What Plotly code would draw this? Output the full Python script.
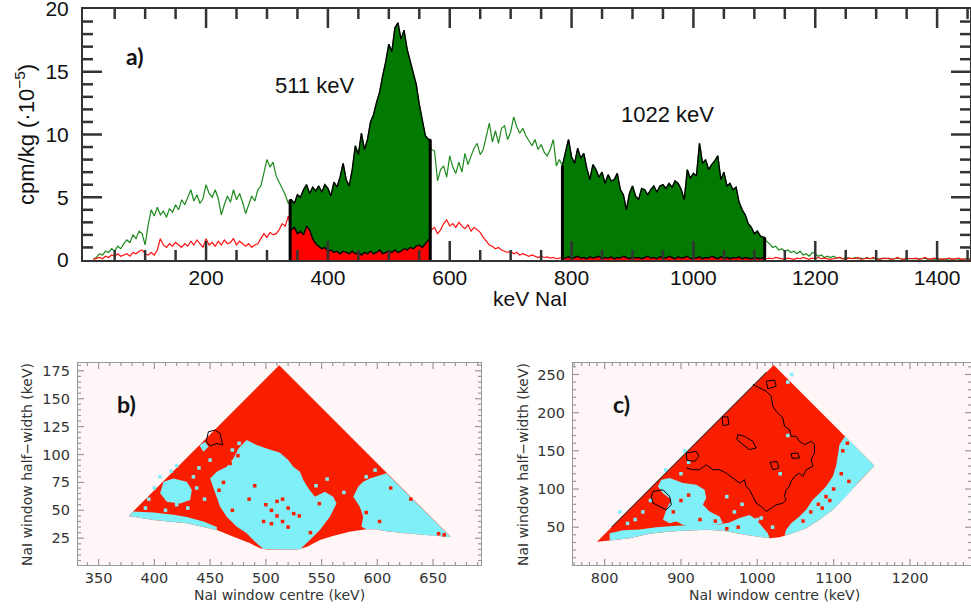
import numpy as np
import plotly.graph_objects as go

# ---------------- panel a) spectrum data (5 keV steps, 15..1455 keV) ----------------
energy_start, energy_step = 15, 5
green_spectrum = [
    0.1,0.2,0.5,0.4,0.7,0.6,0.9,0.7,1.1,0.9,
    1.3,1.6,1.4,2.0,1.7,2.3,2.1,1.2,2.8,4.0,
    3.5,4.2,3.6,3.9,3.4,4.1,3.8,4.4,4.0,4.8,
    4.4,5.0,5.6,4.7,5.2,4.5,4.9,6.0,5.3,5.0,
    5.6,4.9,3.6,4.4,5.1,4.6,5.6,4.8,5.3,4.6,
    3.7,4.4,5.1,4.7,5.6,5.9,7.0,8.0,7.4,7.8,
    6.7,6.2,5.7,5.2,4.5,4.8,4.5,5.2,5.0,5.6,
    6.0,5.3,5.8,5.5,5.9,5.4,6.0,5.7,5.1,6.2,
    5.8,6.6,7.7,6.4,5.9,7.2,9.1,8.4,10.1,8.8,
    9.6,11.0,11.6,12.6,13.4,14.7,15.8,17.2,16.6,18.5,
    18.9,17.6,18.3,16.8,15.9,14.8,14.0,12.4,11.2,9.9,
    9.6,8.8,8.7,6.3,7.2,7.5,6.6,8.3,7.4,6.9,
    7.8,7.0,8.5,7.6,8.3,8.9,9.3,8.4,8.8,9.8,
    10.9,9.4,10.3,9.3,10.5,10.7,9.6,10.2,11.4,10.6,
    10.1,10.5,9.9,9.5,9.1,9.6,8.8,9.2,8.6,8.3,
    8.8,9.6,7.5,8.0,7.5,8.6,9.6,8.2,7.7,8.9,
    8.1,8.5,7.3,6.4,7.6,7.2,6.6,7.0,6.1,6.8,
    6.3,6.4,6.9,5.6,5.2,4.0,5.3,5.9,5.1,4.8,
    5.7,5.6,5.2,5.6,5.9,5.4,5.9,6.0,5.7,6.1,
    5.8,6.3,6.1,5.6,4.8,7.2,6.5,6.9,6.7,9.3,
    7.7,8.0,7.2,7.6,7.9,8.3,6.4,7.0,5.9,6.1,
    5.6,5.8,4.6,4.0,3.6,2.9,2.6,2.1,2.3,1.9,
    1.8,1.5,1.3,1.0,1.1,0.8,0.9,0.7,0.8,0.6,
    0.7,0.5,0.7,0.4,0.5,0.3,0.6,0.5,0.3,0.4,
    0.2,0.3,0.2,0.3,0.15,0.2,0.1,0.2,0.15,0.1,
    0.2,0.1,0.15,0.1,0.2,0.1,0.1,0.15,0.05,0.1,
    0.15,0.1,0.05,0.1,0.15,0.1,0.05,0.1,0.1,0.05,
    0.1,0.05,0.1,0.15,0.05,0.1,0.05,0.1,0.05,0.1,
    0.05,0.1,0.05,0.1,0.05,0.05,0.1,0.05,0.1,
]
red_spectrum = [
    0.05,0.1,0.2,0.1,0.3,0.2,0.4,0.3,0.5,0.3,
    0.4,0.5,0.3,0.6,0.5,0.7,0.8,0.5,0.4,0.6,
    0.4,0.8,1.7,1.2,1.0,1.3,1.1,1.4,1.2,1.0,
    1.3,1.1,1.5,1.2,1.6,1.3,1.0,1.7,1.2,1.4,
    1.1,1.5,1.2,1.6,1.3,1.4,1.7,1.2,1.5,1.3,
    1.1,1.3,1.0,1.2,1.3,1.7,2.1,1.8,2.2,2.0,
    2.1,2.4,2.9,2.7,3.5,2.4,2.6,2.1,2.3,2.0,
    2.7,2.4,1.7,1.3,1.1,0.9,1.0,0.7,0.8,0.6,
    0.7,0.5,0.7,0.6,0.5,0.7,0.5,0.6,0.4,0.6,
    0.5,0.7,0.5,0.6,0.8,0.5,0.6,0.7,0.6,0.8,
    0.6,0.7,0.9,0.8,1.0,0.9,1.1,1.2,1.0,1.3,
    1.6,2.4,2.6,2.1,2.4,2.9,3.2,2.7,2.9,2.6,
    3.0,2.7,2.5,2.8,2.3,2.6,2.4,2.2,1.8,1.5,
    1.2,1.1,0.9,1.0,0.8,0.7,0.6,0.7,0.5,0.6,
    0.4,0.5,0.4,0.3,0.4,0.3,0.2,0.3,0.2,0.25,
    0.15,0.2,0.1,0.15,0.2,0.15,0.25,0.1,0.2,0.3,
    0.15,0.2,0.1,0.25,0.15,0.2,0.3,0.1,0.2,0.15,
    0.25,0.1,0.2,0.15,0.3,0.2,0.1,0.25,0.15,0.2,
    0.1,0.2,0.3,0.15,0.2,0.1,0.25,0.2,0.15,0.3,
    0.2,0.1,0.25,0.15,0.2,0.3,0.1,0.2,0.15,0.25,
    0.1,0.2,0.15,0.3,0.2,0.1,0.25,0.15,0.2,0.1,
    0.2,0.15,0.25,0.1,0.2,0.15,0.1,0.2,0.15,0.1,
    0.2,0.1,0.15,0.1,0.2,0.15,0.1,0.05,0.15,0.1,
    0.05,0.15,0.1,0.2,0.1,0.05,0.15,0.1,0.2,0.1,
    0.15,0.1,0.05,0.1,0.15,0.2,0.1,0.05,0.15,0.1,
    0.1,0.2,0.05,0.1,0.15,0.1,0.2,0.1,0.05,0.15,
    0.1,0.15,0.05,0.1,0.2,0.1,0.05,0.15,0.1,0.1,
    0.15,0.05,0.1,0.2,0.1,0.05,0.15,0.1,0.1,0.05,
    0.1,0.15,0.05,0.1,0.15,0.05,0.1,0.1,0.05,
]
windows = [(338, 568), (785, 1117)]
peak_labels = [("511 keV", 314, 86), ("1022 keV", 667, 114)]
a_xticks = [200, 400, 600, 800, 1000, 1200, 1400]
a_yticks = [0, 5, 10, 15, 20]

# ---------------- panel b) 511 keV window map (polygons, keV units) ----------------
b_xticks = [350, 400, 450, 500, 550, 600, 650]
b_yticks = [25, 50, 75, 100, 125, 150, 175]
b_valid = [(377, 45), (512, 180), (666, 26), (650, 27.3), (620, 30), (605, 31.8), (599, 33),
           (590, 33), (575, 30.9), (560, 27), (548.5, 23.4), (537, 17.4), (529, 15), (515, 14.8),
           (501, 14.8), (495, 16), (486, 20.4), (471, 26.4), (456, 32.4), (429, 38.3), (399, 41.3), (377, 45)]
b_cyan = [
    [(482.8, 112.9), (491.8, 108.5), (500.7, 105.5), (512.7, 101.6), (520.1, 95.0), (524.6, 89.1),
     (530.6, 84.6), (533.6, 77.1), (538.1, 69.7), (544.0, 62.2), (553.0, 66.7), (560.4, 62.2),
     (563.4, 56.2), (560.4, 50.3), (557.5, 44.3), (553.0, 38.3), (548.5, 32.4), (542.5, 26.4),
     (536.6, 20.4), (530.6, 15.0), (515, 14.8), (501, 14.8), (497.8, 15.3), (491.8, 20.4),
     (482.8, 29.4), (473.9, 35.3), (464.9, 44.3), (459.0, 53.2), (456.0, 62.2), (453.0, 71.1),
     (450.0, 78.6), (456.0, 84.6), (464.9, 89.1), (470.9, 96.5), (475.4, 105.5)],
    [(608.2, 83.1), (599.3, 80.1), (593.3, 78.6), (587.3, 75.6), (582.8, 71.1), (578.4, 62.2),
     (584.3, 53.2), (587.3, 44.3), (585.8, 35.3), (590.3, 33), (599, 33), (605, 31.8), (620, 30),
     (650, 27.3), (666, 25.8)],
    [(381.3, 49), (399.3, 48), (417.2, 46), (429.1, 44), (444.0, 40), (456.0, 35), (456, 32.4),
     (429, 38.3), (399, 41.3), (377, 45)],
    [(408.2, 75.6), (417.2, 78.6), (429.1, 75.6), (433.6, 68.2), (432.1, 59.2), (423.1, 56.2),
     (411.2, 57.7), (405.2, 65.2)],
    [(440.4, 108.4), (445.5, 111.4), (448.5, 107.0), (444.0, 102.5)],
]
b_red_specks = [(500, 55), (505, 50), (510, 45), (515, 40), (520, 52), (525, 47), (510, 58), (520, 35),
                (498, 40), (530, 45), (515, 60), (505, 38), (455, 95), (460, 100), (468, 92), (475, 99),
                (462, 75), (458, 68), (590, 48), (602, 40), (630, 60), (655, 29), (660, 28), (612, 70),
                (485, 60), (490, 72), (470, 50), (540, 30), (548, 56)]
b_cyan_specks = [(400, 70), (405, 80), (415, 85), (420, 90), (425, 65), (435, 80), (440, 88), (420, 55),
                 (395, 60), (410, 50), (430, 52), (445, 60), (450, 95), (470, 104), (476, 110), (545, 72),
                 (555, 78), (570, 66), (590, 80), (598, 86), (438, 70), (392, 52)]
b_contours = [
    [(448.5, 120.4), (454.5, 121.9), (459.0, 118.9), (460.4, 112.9), (461.3, 108.5), (456.0, 109.9),
     (450.0, 107.6), (446.4, 111.4), (447.6, 116.5), (448.5, 120.4)],
]

# ---------------- panel c) 1022 keV window map ----------------
c_xticks = [800, 900, 1000, 1100, 1200]
c_yticks = [50, 100, 150, 200, 250]
c_valid = [(790, 31), (1021.5, 262.5), (1153.4, 130.5), (1133.8, 110.0), (1116.3, 90.3), (1098.9, 72.8),
           (1081.4, 59.6), (1064.0, 48.7), (1044.3, 41.3), (1029.1, 36.9), (1016.0, 35.6), (998.5, 37.7),
           (985.4, 39.9), (954.9, 45.2), (933.1, 46.5), (911.3, 45.6), (885.1, 44.3), (858.9, 41.3),
           (832.7, 35.6), (806.5, 32.5), (790, 31)]
c_cyan = [
    [(1115.0, 169.0), (1107.6, 158.1), (1105.4, 142.8), (1103.2, 129.7), (1098.9, 116.5), (1090.1, 103.4),
     (1081.4, 94.6), (1072.7, 85.9), (1064.0, 72.8), (1055.2, 64.0), (1044.3, 55.3), (1037.8, 46.5),
     (1035.6, 39.0), (1044.3, 41.3), (1064.0, 48.7), (1081.4, 59.6), (1098.9, 72.8), (1116.3, 90.3),
     (1133.8, 110.0), (1153.4, 130.5)],
    [(874.2, 112.1), (885.1, 114.3), (902.5, 107.8), (920.0, 105.6), (930.9, 99.0), (933.1, 88.1),
     (928.7, 79.3), (937.4, 70.6), (950.5, 64.0), (954.9, 55.3), (937.4, 50.9), (920.0, 48.7),
     (902.5, 53.1), (893.8, 57.4), (885.1, 55.3), (876.4, 59.6), (880.7, 72.8), (887.3, 85.9),
     (876.4, 94.6), (869.8, 103.4)],
    [(806.5, 42), (824.0, 46), (845.8, 47), (867.6, 50), (893.8, 52), (920.0, 53), (946.2, 53),
     (963.6, 56), (976.7, 62), (989.8, 66), (998.5, 60), (1007.2, 50), (1013.8, 42), (1016.0, 35.6),
     (998.5, 37.7), (985.4, 39.9), (954.9, 45.2), (933.1, 46.5), (911.3, 45.6), (885.1, 44.3),
     (858.9, 41.3), (832.7, 35.6), (806.5, 32.5)],
]
c_red_specks = [(1090, 90), (1100, 100), (1080, 80), (1070, 70), (1110, 120), (1060, 58), (1120, 110),
                (1112, 150), (1118, 160), (1085, 75), (1095, 85), (900, 85), (910, 92), (890, 70),
                (925, 60), (945, 58), (960, 48), (975, 50)]
c_cyan_specks = [(900, 120), (910, 135), (880, 125), (905, 150), (1040, 170), (1045, 250), (1040, 240),
                 (1030, 120), (1000, 60), (990, 55), (960, 90), (970, 70), (850, 70), (840, 60),
                 (830, 55), (820, 70), (1005, 62), (1020, 50), (980, 80), (860, 85)]
c_contours = [
    [(994.2, 236.9), (1002.9, 232.5), (1011.6, 228.1), (1018.2, 221.6), (1020.3, 208.4), (1024.7, 201.8),
     (1033.4, 193.1), (1035.6, 182.2), (1042.1, 177.8), (1044.3, 169.0), (1050.9, 169.0), (1055.2, 162.4),
     (1061.8, 158.1), (1070.5, 162.4), (1074.9, 158.1), (1074.9, 147.2), (1070.5, 138.4), (1072.7, 129.7),
     (1064.0, 125.3), (1059.6, 116.5), (1055.2, 120.9), (1048.7, 116.5), (1044.3, 110.0), (1042.1, 103.4),
     (1037.8, 99.0), (1035.6, 90.3), (1037.8, 85.9), (1033.4, 81.5), (1024.7, 79.3), (1018.2, 75.0),
     (1011.6, 70.6), (1005.1, 77.1), (998.5, 81.5), (994.2, 90.3), (989.8, 99.0), (985.4, 103.4),
     (983.2, 112.1), (976.7, 107.8), (968.0, 114.3), (959.2, 120.9), (950.5, 125.3), (941.8, 125.3),
     (933.1, 131.8), (924.3, 125.3), (915.6, 125.3), (906.9, 127.5)],
    [(809, 50), (1012, 253)],
    [(863.3, 96.8), (876.4, 99.0), (885.1, 90.3), (887.3, 79.3), (880.7, 72.8), (872.0, 77.1),
     (863.3, 81.5), (861.1, 90.3), (863.3, 96.8)],
    [(906.9, 147.2), (920.0, 149.3), (923.5, 142.8), (917.8, 136.2), (907.8, 137.5), (906.9, 147.2)],
    [(954.0, 194.4), (961.4, 194.4), (962.7, 184.4), (954.9, 183.0), (954.0, 194.4)],
    [(974.5, 171.2), (983.2, 169.0), (994.2, 162.4), (998.5, 153.7), (989.8, 151.5), (981.1, 158.1),
     (973.2, 164.7), (974.5, 171.2)],
    [(1016.8, 134.9), (1025.6, 136.2), (1028.2, 127.5), (1020.3, 125.3), (1016.8, 134.9)],
    [(1011.6, 241.2), (1022.5, 242.6), (1024.7, 234.7), (1013.8, 231.2), (1011.6, 241.2)],
    [(1044.3, 146.3), (1053.1, 147.2), (1055.2, 140.6), (1045.6, 140.2), (1044.3, 146.3)],
]

# ---------------- styling / geometry ----------------
W, H = 971, 612
RED_MAP, CYAN_MAP, BG_MAP = "#fa1e00", "#80f0f8", "#fff6f8"
GREEN_LINE, GREEN_FILL, RED_LINE = "#1d8a1d", "#027a02", "#ff1010"
A_BOX, A_XR, A_YR = (83, 970, 9, 260), (-2, 1454), (0, 20)
B_BOX, B_XR, B_YR = (78, 481, 363, 565), (331.5, 693), (1, 182)
C_BOX, C_XR, C_YR = (573, 971, 363, 565), (758.5, 1280), (0.5, 265)

energy = energy_start + energy_step * np.arange(len(green_spectrum))
green = np.array(green_spectrum)
red = np.array(red_spectrum)

fig = go.Figure()

fig.add_trace(go.Scatter(x=energy, y=green, mode="lines", line=dict(color=GREEN_LINE, width=1.2),
                         xaxis="x", yaxis="y", showlegend=False, hoverinfo="skip"))
fig.add_trace(go.Scatter(x=energy, y=red, mode="lines", line=dict(color=RED_LINE, width=1.2),
                         xaxis="x", yaxis="y", showlegend=False, hoverinfo="skip"))


def window_poly(vals, w0, w1):
    sel = (energy >= w0) & (energy <= w1)
    xs = list(energy[sel])
    ys = list(vals[sel])
    return [w0, w0] + xs + [w1, w1], [0, ys[0]] + ys + [ys[-1], 0]


for w0, w1 in windows:
    for vals, col in ((green, GREEN_FILL), (red, "#ff0000")):
        px, py = window_poly(vals, w0, w1)
        fig.add_trace(go.Scatter(x=px, y=py, mode="lines", fill="toself", fillcolor=col,
                                 line=dict(color="black", width=1.4), xaxis="x", yaxis="y",
                                 showlegend=False, hoverinfo="skip"))
    for w in (w0, w1):
        sel = (energy >= w0) & (energy <= w1)
        top = green[sel][0] if w == w0 else green[sel][-1]
        fig.add_trace(go.Scatter(x=[w, w], y=[0, top], mode="lines", line=dict(color="black", width=3),
                                 xaxis="x", yaxis="y", showlegend=False, hoverinfo="skip"))


def add_map(valid, cyans, red_specks, cyan_specks, contours, xa, ya):
    vx, vy = zip(*valid)
    fig.add_trace(go.Scatter(x=vx, y=vy, mode="lines", fill="toself", fillcolor=RED_MAP,
                             line=dict(width=0, color=RED_MAP), xaxis=xa, yaxis=ya,
                             showlegend=False, hoverinfo="skip"))
    for poly in cyans:
        px, py = zip(*poly)
        fig.add_trace(go.Scatter(x=px, y=py, mode="lines", fill="toself", fillcolor=CYAN_MAP,
                                 line=dict(width=0, color=CYAN_MAP), xaxis=xa, yaxis=ya,
                                 showlegend=False, hoverinfo="skip"))
    for specks, col in ((red_specks, RED_MAP), (cyan_specks, CYAN_MAP)):
        sx, sy = zip(*specks)
        fig.add_trace(go.Scatter(x=sx, y=sy, mode="markers",
                                 marker=dict(symbol="square", size=3.5, color=col, line=dict(width=0)),
                                 xaxis=xa, yaxis=ya, showlegend=False, hoverinfo="skip"))
    for line in contours:
        px, py = zip(*line)
        fig.add_trace(go.Scatter(x=px, y=py, mode="lines", line=dict(color="black", width=1),
                                 xaxis=xa, yaxis=ya, showlegend=False, hoverinfo="skip"))


add_map(b_valid, b_cyan, b_red_specks, b_cyan_specks, b_contours, "x2", "y2")
add_map(c_valid, c_cyan, c_red_specks, c_cyan_specks, c_contours, "x3", "y3")


# inward tick marks on all four sides, as line segments on each panel's own scales
def add_ticks(xa, ya, box, xr, yr, xmajor, xminor, ymajor, yminor, lmaj, lmin, color, width):
    wpx, hpx = box[1] - box[0], box[3] - box[2]
    ux = (xr[1] - xr[0]) / wpx
    uy = (yr[1] - yr[0]) / hpx
    tx, ty = [], []
    for vals, L in ((xmajor, lmaj), (xminor, lmin)):
        for v in vals:
            tx += [v, v, None, v, v, None]
            ty += [yr[0], yr[0] + L * uy, None, yr[1], yr[1] - L * uy, None]
    for vals, L in ((ymajor, lmaj), (yminor, lmin)):
        for v in vals:
            tx += [xr[0], xr[0] + L * ux, None, xr[1], xr[1] - L * ux, None]
            ty += [v, v, None, v, v, None]
    fig.add_trace(go.Scatter(x=tx, y=ty, mode="lines", line=dict(color=color, width=width),
                             connectgaps=False, xaxis=xa, yaxis=ya, showlegend=False, hoverinfo="skip"))


a_xminor = [v for v in range(50, 1451, 50) if v not in a_xticks]
a_yminor = [v for v in range(1, 20) if v not in a_yticks]
b_xminor = [v for v in range(340, 691, 10) if v not in b_xticks]
b_yminor = [v for v in range(5, 181, 5) if v not in b_yticks]
c_xminor = [v for v in range(760, 1280, 10) if v not in c_xticks]
c_yminor = [v for v in range(10, 261, 10) if v not in c_yticks]

add_ticks("x", "y", A_BOX, A_XR, A_YR, a_xticks, a_xminor, a_yticks[1:-1], a_yminor, 19, 10, "#333", 2.5)
add_ticks("x2", "y2", B_BOX, B_XR, B_YR, b_xticks, b_xminor, b_yticks, b_yminor, 6, 3, "#999", 1.2)
add_ticks("x3", "y3", C_BOX, C_XR, C_YR, c_xticks, c_xminor, c_yticks, c_yminor, 6, 3, "#999", 1.2)

TOP_FONT = dict(family="Liberation Sans, Arial, sans-serif", size=21, color="#111")
MAP_FONT = dict(family="DejaVu Sans, sans-serif", size=14.5, color="#333")


def top_axis(**kw):
    d = dict(showline=True, linecolor="#333", linewidth=2, mirror=True, ticks="",
             showgrid=False, zeroline=False, tickfont=TOP_FONT,
             ticklabeloverflow="allow", automargin=False)
    d.update(kw)
    return d


def map_axis(**kw):
    d = dict(showline=True, linecolor="#999", linewidth=1.2, mirror=True, ticks="",
             showgrid=False, zeroline=False, tickfont=MAP_FONT,
             ticklabeloverflow="allow", automargin=False)
    d.update(kw)
    return d


def xdom(box):
    return [box[0] / W, min(box[1] / W, 1.0)]


def ydom(box):
    return [1 - box[3] / H, 1 - box[2] / H]


fig.update_layout(
    template="none",
    width=W, height=H, margin=dict(l=0, r=0, t=0, b=0, pad=0), autosize=False,
    paper_bgcolor="white", plot_bgcolor="white", showlegend=False,
    xaxis=top_axis(domain=xdom(A_BOX), anchor="y", range=list(A_XR), tickvals=a_xticks, ticklabelstandoff=-2),
    yaxis=top_axis(domain=ydom(A_BOX), anchor="x", range=list(A_YR), tickvals=a_yticks, ticklabelstandoff=8),
    xaxis2=map_axis(domain=xdom(B_BOX), anchor="y2", range=list(B_XR), tickvals=b_xticks, ticklabelstandoff=-1),
    yaxis2=map_axis(domain=ydom(B_BOX), anchor="x2", range=list(B_YR), tickvals=b_yticks, ticklabelstandoff=4),
    xaxis3=map_axis(domain=xdom(C_BOX), anchor="y3", range=list(C_XR), tickvals=c_xticks, ticklabelstandoff=-1),
    yaxis3=map_axis(domain=ydom(C_BOX), anchor="x3", range=list(C_YR), tickvals=c_yticks, ticklabelstandoff=4),
)

for xa, ya in (("x2", "y2"), ("x3", "y3")):
    fig.add_shape(type="rect", xref=f"{xa} domain", yref=f"{ya} domain", x0=0, x1=1, y0=0, y1=1,
                  fillcolor=BG_MAP, line=dict(width=0), layer="below")


def ann(text, px, py, font, angle=0):
    fig.add_annotation(text=text, x=px / W, y=1 - py / H, xref="paper", yref="paper",
                       showarrow=False, font=font, textangle=angle, xanchor="center", yanchor="middle")


LABEL_FONT = dict(family="Liberation Sans, Arial, sans-serif", size=22, color="#111")
PANEL_FONT = dict(family="Lato, Open Sans, sans-serif", size=23, color="#111")
ann("cpm/kg (·10<sup>−5</sup>)", 25, 135, LABEL_FONT, -90)
ann("keV NaI", 530, 298, dict(LABEL_FONT, size=21))
for txt, px, py in peak_labels:
    ann(txt, px, py, LABEL_FONT)
ann("<b>a)</b>", 135, 56, PANEL_FONT)
ann("<b>b)</b>", 127, 404, PANEL_FONT)
ann("<b>c)</b>", 621, 404, PANEL_FONT)
TITLE_FONT = dict(MAP_FONT, size=14)
ann("NaI window centre (keV)", 279, 595, TITLE_FONT)
ann("NaI window half−width (keV)", 27, 465, TITLE_FONT, -90)
ann("NaI window centre (keV)", 774, 595, TITLE_FONT)
ann("NaI window half−width (keV)", 523, 465, TITLE_FONT, -90)

fig.write_html("out.html")
